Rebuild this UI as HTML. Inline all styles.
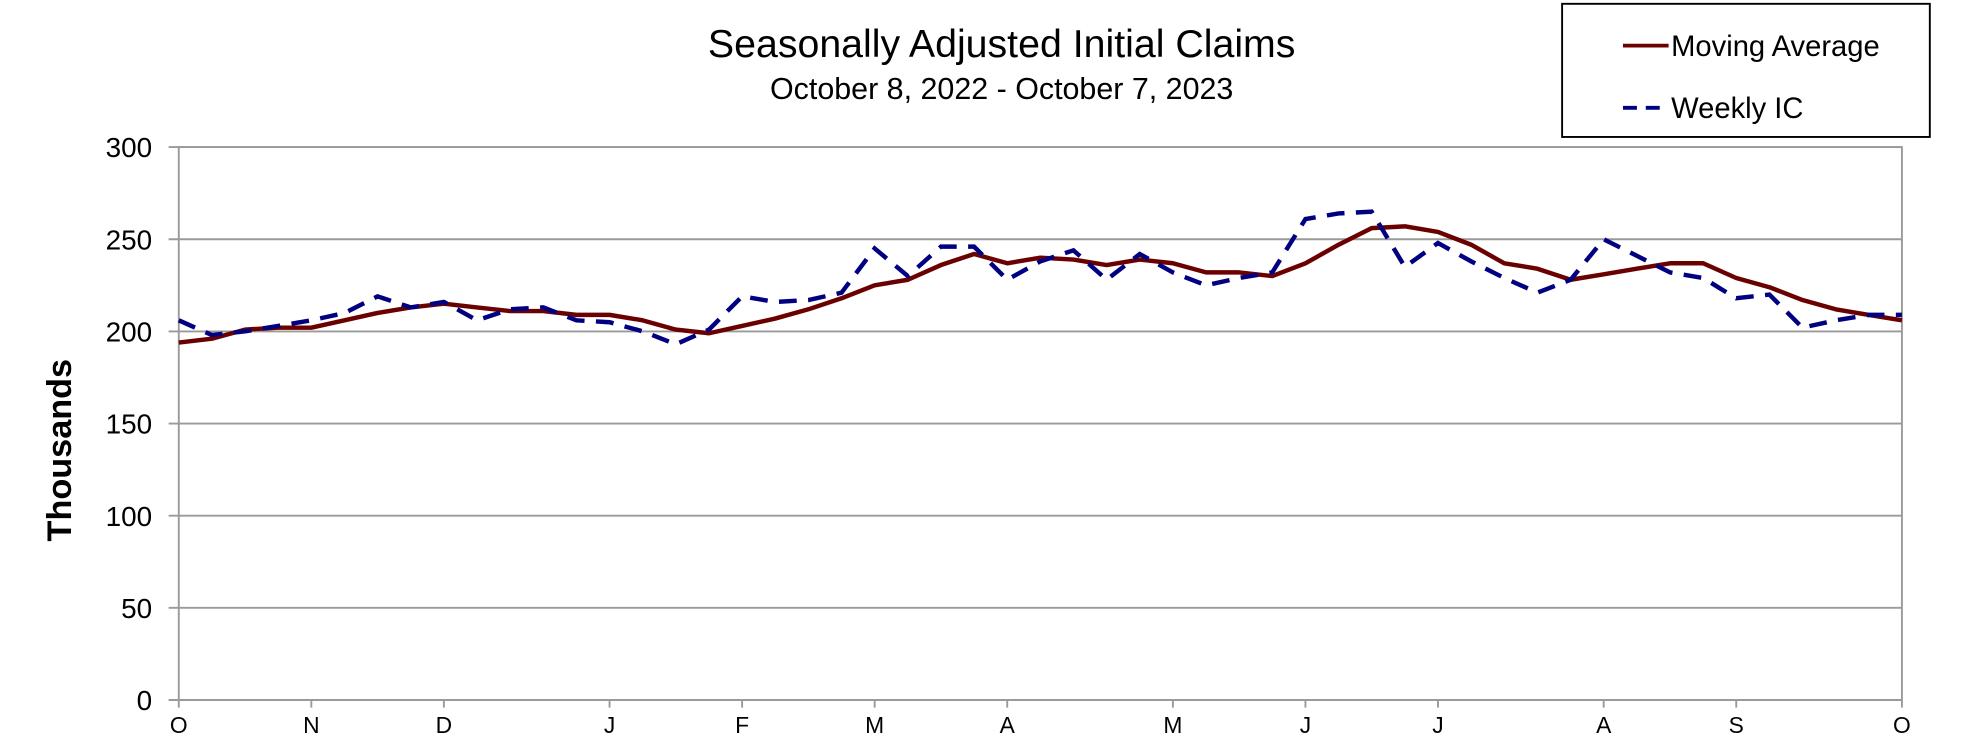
<!DOCTYPE html>
<html><head><meta charset="utf-8"><style>
html,body{margin:0;background:#fff;overflow:hidden;}
svg{display:block;font-family:"Liberation Sans",sans-serif;}
</style></head><body>
<svg id="c" width="1978" height="752" viewBox="0 0 1560 593" preserveAspectRatio="none">
<text x="790" y="45" text-anchor="middle" font-size="31">Seasonally Adjusted Initial Claims</text>
<text x="790" y="78" text-anchor="middle" font-size="24">October 8, 2022 - October 7, 2023</text>
<g>
<rect x="1232" y="3" width="290" height="105" fill="#fff" stroke="#000" stroke-width="1.5"/>
<g>
<line x1="1280" y1="36" x2="1316" y2="36" stroke="#6b0000" stroke-width="3"/>
<text x="1318" y="44" font-size="23">Moving Average</text></g>
<g>
<line x1="1280" y1="85" x2="1316" y2="85" stroke="#000080" stroke-width="3" stroke-dasharray="11,7"/>
<text x="1318" y="93" font-size="23">Weekly IC</text></g>
</g>
<text transform="translate(56,355) rotate(-90)" text-anchor="middle" font-size="27" font-weight="bold">Thousands</text>
<g id="grid"></g><g id="yt"></g><g id="xt"></g><g id="series"></g>
</svg>
<script>
const monthLabels=["O","N","D","J","F","M","A","M","J","J","A","S","O"];
const monthPos=[0,4,8,13,17,21,25,30,34,38,43,47,52];
const yTicks=[0,50,100,150,200,250,300];
const weeklyIC=[206,198,200,203,206,210,219,213,216,206,212,213,206,205,200,193,201,219,216,217,221,245,230,246,246,228,238,244,228,242,232,225,229,232,261,264,265,235,248,238,229,221,228,250,241,232,229,218,220,202,206,209,209];
const movingAvg=[194,196,201,202,202,206,210,213,215,213,211,211,209,209,206,201,199,203,207,212,218,225,228,236,242,237,240,239,236,239,237,232,232,230,237,247,256,257,254,247,237,234,228,231,234,237,237,229,224,217,212,209,206];
const NS="http://www.w3.org/2000/svg";
const X0=141,X1=1500,Y0=552,Y1=116;
const xs=i=>X0+(X1-X0)*i/52;
const ys=v=>Y0-(Y0-Y1)*v/300;
function mk(t,a,p){const e=document.createElementNS(NS,t);for(const k in a)e.setAttribute(k,a[k]);p.appendChild(e);return e;}
const grid=document.getElementById('grid'),yt=document.getElementById('yt'),xt=document.getElementById('xt'),ser=document.getElementById('series');
yTicks.forEach(v=>{
 const l=mk('line',{x1:X0-8,x2:X1,y1:ys(v),y2:ys(v),stroke:'#9a9a9a','stroke-width':1.5},grid);
 
 
 const t=mk('text',{x:120,y:ys(v)+8,'text-anchor':'end','font-size':22},yt);
 t.textContent=v;
 
 
});
const fr=mk('rect',{x:X0,y:Y1,width:X1-X0,height:Y0-Y1,fill:'none',stroke:'#9a9a9a','stroke-width':1.5},grid);


monthLabels.forEach((m,i)=>{
 const t=mk('text',{x:xs(monthPos[i]),y:578,'text-anchor':'middle','font-size':18},xt);
 t.textContent=m;
 
 
 const tk=mk('line',{x1:xs(monthPos[i]),x2:xs(monthPos[i]),y1:Y0,y2:Y0+6,stroke:'#9a9a9a','stroke-width':1.5},xt);
 
 
});
const pts=a=>a.map((v,i)=>xs(i).toFixed(1)+','+ys(v).toFixed(1)).join(' ');
const ma=mk('polyline',{points:pts(movingAvg),fill:'none',stroke:'#6b0000','stroke-width':3.5,'stroke-linejoin':'round'},ser);


const wk=mk('polyline',{points:pts(weeklyIC),fill:'none',stroke:'#000080','stroke-width':3.5,'stroke-dasharray':'14,9'},ser);


</script>
</body></html>
